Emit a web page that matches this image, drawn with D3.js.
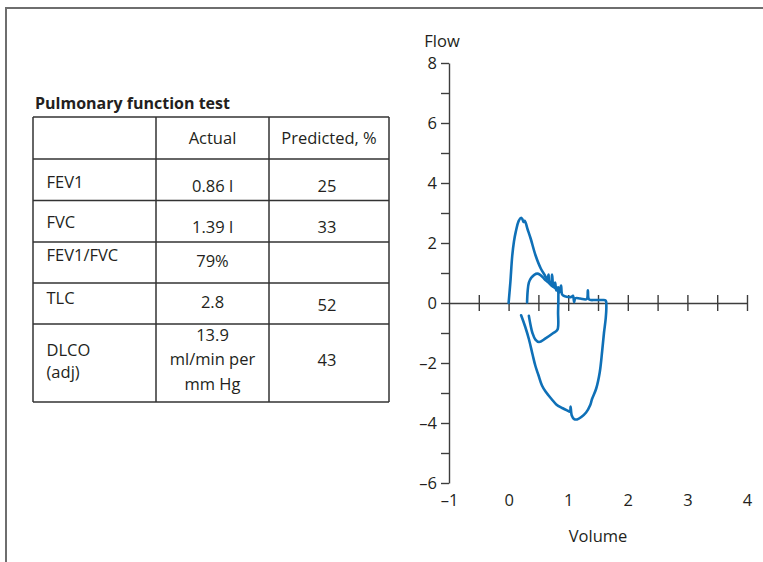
<!DOCTYPE html>
<html>
<head>
<meta charset="utf-8">
<script src="https://cdn.jsdelivr.net/npm/d3@7"></script>
<style>
  html, body { margin: 0; padding: 0; background: #fff; }
  svg { display: block; font-family: "Open Sans", sans-serif; }
</style>
</head>
<body>
<div id="chart"></div>
<script>
// ---- data ----
const tableHeader = ["", "Actual", "Predicted, %"];
const testNames = [["FEV1"], ["FVC"], ["FEV1/FVC"], ["TLC"], ["DLCO", "(adj)"]];
const actualValues = [["0.86 l"], ["1.39 l"], ["79%"], ["2.8"], ["13.9", "ml/min per", "mm Hg"]];
const predictedPct = ["25", "33", "", "52", "43"];

const volumeTicks = [-1, 0, 1, 2, 3, 4];
const flowTicks = [-6, -4, -2, 0, 2, 4, 6, 8];

// first effort: expiration then inspiration  [volume, flow]
const firstEffort = [
  [0.00, 0.00], [0.03, 0.70], [0.06, 1.55], [0.09, 2.05], [0.12, 2.37], [0.17, 2.74],
  [0.21, 2.84], [0.23, 2.80], [0.25, 2.70], [0.27, 2.74], [0.32, 2.45], [0.37, 2.15],
  [0.45, 1.60], [0.54, 1.15], [0.60, 0.95], [0.65, 0.80], [0.67, 0.95], [0.68, 0.70],
  [0.71, 0.65], [0.73, 0.95], [0.75, 0.55], [0.78, 0.68], [0.80, 0.42], [0.83, 0.52],
  [0.85, 0.35], [0.88, 0.58], [0.90, 0.28], [0.95, 0.22], [1.00, 0.20], [1.05, 0.20],
  [1.08, 0.24], [1.10, 0.03], [1.12, 0.16], [1.20, 0.15], [1.31, 0.13], [1.33, 0.42],
  [1.35, 0.12], [1.45, 0.10], [1.58, 0.10], [1.63, 0.08],
  [1.64, -0.10], [1.63, -0.50], [1.60, -1.00], [1.57, -1.60], [1.53, -2.30], [1.47, -2.85],
  [1.40, -3.20], [1.37, -3.40], [1.30, -3.65], [1.22, -3.80], [1.15, -3.88], [1.10, -3.87],
  [1.06, -3.75], [1.04, -3.45], [1.03, -3.62], [0.98, -3.58], [0.90, -3.50], [0.80, -3.38],
  [0.72, -3.20], [0.62, -2.95], [0.56, -2.75], [0.50, -2.40], [0.45, -2.10], [0.40, -1.70],
  [0.34, -1.20], [0.28, -0.80], [0.21, -0.41]
];

// second effort (smaller loop)
const secondEffort = [
  [0.31, 0.02], [0.32, 0.40], [0.34, 0.68], [0.38, 0.84], [0.43, 0.94], [0.48, 0.98],
  [0.53, 0.94], [0.60, 0.80], [0.67, 0.68], [0.74, 0.55], [0.80, 0.47], [0.83, 0.40],
  [0.835, 0.20], [0.83, -0.30], [0.82, -0.89], [0.75, -1.00], [0.62, -1.18], [0.51, -1.30],
  [0.45, -1.22], [0.40, -1.00], [0.37, -0.75], [0.34, -0.43]
];

// ---- layout ----
const W = 763, H = 562;
const ink = "#231f20";
const axisCol = "#3d3d3d";
const blue = "#0f70b7";
const fs = 16.5;

const svg = d3.select("#chart").append("svg")
  .attr("width", W).attr("height", H);

// frame (top + left edges)
svg.append("path")
  .attr("d", `M6,${H} V8 H${W}`)
  .attr("fill", "none")
  .attr("stroke", "#6e6e6e")
  .attr("stroke-width", 2);

// ---- table ----
const colX = [33, 156, 269, 389];
const rowY = [117, 159, 200.5, 242, 283, 324, 402];
// vertical nudges (px) per row for [label, actual, predicted]
const textNudge = [[0, 0, 0], [2, 6, 6], [0.5, 5.5, 5.5], [-7.5, -1.5, 0], [-5.5, -1.5, 1.5], [-2, -3.5, -3]];

svg.append("text")
  .attr("x", 35).attr("y", 109)
  .attr("fill", ink)
  .style("font-size", "16px")
  .style("font-weight", "bold")
  .text("Pulmonary function test");

const tbl = svg.append("g");
rowY.forEach(y => {
  tbl.append("line")
    .attr("x1", colX[0]).attr("x2", colX[3])
    .attr("y1", y).attr("y2", y)
    .attr("stroke", "#333").attr("stroke-width", 1.5);
});
colX.forEach(x => {
  tbl.append("line")
    .attr("x1", x).attr("x2", x)
    .attr("y1", rowY[0]).attr("y2", rowY[rowY.length - 1])
    .attr("stroke", "#333").attr("stroke-width", 1.5);
});

const cellText = (lines, x, cy, anchor, lh) => {
  const t = tbl.append("text")
    .attr("x", x)
    .attr("text-anchor", anchor)
    .attr("fill", ink)
    .style("font-size", fs + "px");
  const y0 = cy - (lines.length - 1) * lh / 2 + fs * 0.35;
  lines.forEach((s, i) => {
    t.append("tspan").attr("x", x).attr("y", y0 + i * lh).text(s);
  });
};

const colMid = i => (colX[i] + colX[i + 1]) / 2;
// header row
tableHeader.forEach((h, i) => {
  if (h) cellText([h], colMid(i), (rowY[0] + rowY[1]) / 2, "middle", 22);
});
testNames.forEach((name, r) => {
  const cy = (rowY[r + 1] + rowY[r + 2]) / 2;
  const nd = textNudge[r + 1];
  cellText(name, 46.5, cy + nd[0], "start", 22);
  cellText(actualValues[r], colMid(1), cy + nd[1], "middle", 24.5);
  if (predictedPct[r]) cellText([predictedPct[r]], colMid(2) - 2, cy + nd[2], "middle", 22);
});

// ---- flow-volume plot ----
const x = d3.scaleLinear().domain([-1, 4]).range([449, 747]);
const y = d3.scaleLinear().domain([-6, 8]).range([483, 63]);

// y axis with unit ticks, labels on even values
const yAxis = d3.axisLeft(y)
  .tickValues(d3.range(-6, 9, 1))
  .tickSizeInner(8).tickSizeOuter(0).tickPadding(4)
  .tickFormat(d => flowTicks.includes(d) ? (d < 0 ? "\u2013" + Math.abs(d) : d) : "");

const gy = svg.append("g")
  .attr("transform", `translate(${x(-1)},0)`)
  .call(yAxis);

// x axis through zero with ticks crossing the line every 0.5
const xAxis = d3.axisBottom(x)
  .tickValues(d3.range(-0.5, 4.01, 0.5))
  .tickSizeInner(8).tickSizeOuter(0)
  .tickFormat("");

const gx = svg.append("g")
  .attr("transform", `translate(0,${y(0)})`)
  .call(xAxis);
gx.selectAll(".tick line").attr("y1", -8).attr("y2", 8);

// volume labels along the bottom
const gxl = svg.append("g")
  .attr("transform", `translate(0,${y(-6)})`)
  .call(d3.axisBottom(x)
    .tickValues(volumeTicks)
    .tickSize(0).tickPadding(11)
    .tickFormat(d => d < 0 ? "\u2013" + Math.abs(d) : d));
gxl.select(".domain").remove();

[gy, gx, gxl].forEach(g => {
  g.selectAll(".domain, .tick line").attr("stroke", axisCol).attr("stroke-width", 1.4);
  g.selectAll("text")
    .attr("fill", ink)
    .style("font-size", fs + "px")
    .style("font-family", "'Open Sans', sans-serif");
});

svg.append("text")
  .attr("x", 442).attr("y", 46.5)
  .attr("text-anchor", "middle")
  .attr("fill", ink)
  .style("font-size", fs + "px")
  .text("Flow");

svg.append("text")
  .attr("x", 598).attr("y", 541.5)
  .attr("text-anchor", "middle")
  .attr("fill", ink)
  .style("font-size", fs + "px")
  .text("Volume");

const line = d3.line()
  .x(d => x(d[0]))
  .y(d => y(d[1]))
  .curve(d3.curveCatmullRom.alpha(0.5));

[firstEffort, secondEffort].forEach(pts => {
  svg.append("path")
    .datum(pts)
    .attr("d", line)
    .attr("fill", "none")
    .attr("stroke", blue)
    .attr("stroke-width", 2.6)
    .attr("stroke-linejoin", "round")
    .attr("stroke-linecap", "round");
});
</script>
</body>
</html>
